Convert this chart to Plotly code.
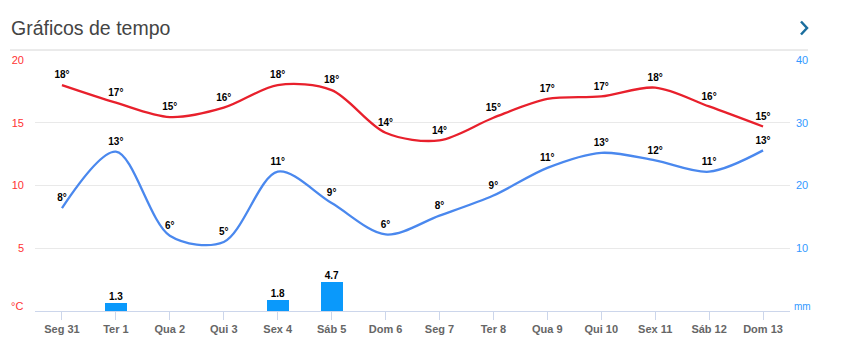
import plotly.graph_objects as go

days = ["Seg 31", "Ter 1", "Qua 2", "Qui 3", "Sex 4", "Sáb 5", "Dom 6",
        "Seg 7", "Ter 8", "Qua 9", "Qui 10", "Sex 11", "Sáb 12", "Dom 13"]
t_max = [18.0, 16.6, 15.45, 16.2, 18.0, 17.6, 14.2, 13.6, 15.4, 16.9, 17.1, 17.8, 16.3, 14.7]
t_min = [8.2, 12.7, 6.0, 5.5, 11.1, 8.6, 6.1, 7.6, 9.2, 11.4, 12.6, 12.0, 11.1, 12.8]
t_max_labels = ["18°", "17°", "15°", "16°", "18°", "18°", "14°",
                "14°", "15°", "17°", "17°", "18°", "16°", "15°"]
t_min_labels = ["8°", "13°", "6°", "5°", "11°", "9°", "6°",
                "8°", "9°", "11°", "13°", "12°", "11°", "13°"]
rain_days = ["Ter 1", "Sex 4", "Sáb 5"]
rain_mm = [1.3, 1.8, 4.7]
left_ticks = [5, 10, 15, 20]
right_ticks = [10, 20, 30, 40]

W, H = 845, 355
L, R, T, B = 35, 55, 60, 44
PW, PH = W - L - R, H - T - B

def px_x(px):
    return (px - L) / PW

def px_y(py):
    return (H - B - py) / PH

FONT = "Liberation Sans, Arial, sans-serif"
RED = "#e8202c"
BLUE = "#4a88ee"

fig = go.Figure()
fig.add_trace(go.Bar(
    x=rain_days, y=rain_mm, yaxis="y2", width=0.41,
    marker=dict(color="#0a99fb", line=dict(width=0)),
    hoverinfo="skip", showlegend=False,
))
fig.add_trace(go.Scatter(
    x=rain_days, y=rain_mm, yaxis="y2", mode="text",
    text=[f"<b>{v:.1f}</b>" for v in rain_mm], textposition="top center",
    textfont=dict(family=FONT, size=10, color="#000"),
    cliponaxis=False, hoverinfo="skip", showlegend=False,
))
for vals, labels, col in ((t_max, t_max_labels, RED), (t_min, t_min_labels, BLUE)):
    fig.add_trace(go.Scatter(
        x=days, y=vals, mode="lines+markers+text",
        line=dict(color=col, width=2.3, shape="spline", smoothing=0.9),
        marker=dict(size=5, color="rgba(0,0,0,0)"),
        text=[f"<b>{s}</b>" for s in labels], textposition="top center",
        textfont=dict(family=FONT, size=10, color="#000"),
        cliponaxis=False, showlegend=False,
    ))

fig.update_layout(
    width=W, height=H,
    margin=dict(l=L, r=R, t=T, b=B, pad=0),
    paper_bgcolor="white", plot_bgcolor="white",
    font=dict(family=FONT),
    bargap=0,
    xaxis=dict(
        type="category", categoryorder="array", categoryarray=days,
        range=[-0.5, len(days) - 0.5],
        showgrid=False, zeroline=False,
        showline=True, linecolor="#ccd6eb", linewidth=1,
        ticks="outside", ticklen=8, tickcolor="#ccd6eb", tickwidth=1,
        tickfont=dict(family=FONT, size=11, color="#666666", weight="bold"),
        fixedrange=True,
    ),
    yaxis=dict(
        range=[0, 20], tickvals=left_ticks,
        showgrid=True, gridcolor="#e9e9e9", gridwidth=1,
        zeroline=False, showline=False, ticks="",
        ticklabelstandoff=10,
        tickfont=dict(family=FONT, size=11, color="#ff3333"),
    ),
    yaxis2=dict(
        range=[0, 40], tickvals=right_ticks, overlaying="y", side="right",
        showgrid=False, zeroline=False, showline=False, ticks="",
        ticklabelstandoff=5,
        tickfont=dict(family=FONT, size=11, color="#3399ff"),
    ),
    annotations=[
        dict(text="Gráficos de tempo", xref="paper", yref="paper",
             x=px_x(9), y=px_y(28), xanchor="left", yanchor="middle",
             showarrow=False, font=dict(family=FONT, size=19.5, color="#444444")),
        dict(text="°C", xref="paper", yref="paper",
             x=px_x(25), y=px_y(306), xanchor="right", yanchor="middle",
             showarrow=False, font=dict(family=FONT, size=11, color="#ff3333")),
        dict(text="mm", xref="paper", yref="paper",
             x=px_x(792), y=px_y(306), xanchor="left", yanchor="middle",
             showarrow=False, font=dict(family=FONT, size=10, color="#3399ff")),
    ],
    shapes=[
        dict(type="line", xref="paper", yref="paper",
             x0=px_x(10), x1=px_x(808), y0=px_y(50), y1=px_y(50),
             line=dict(color="#d6d6d6", width=1)),
        dict(type="path", xref="paper", yref="paper",
             path=f"M {px_x(801)},{px_y(21.5)} L {px_x(807)},{px_y(28)} L {px_x(801)},{px_y(34.5)}",
             line=dict(color="#1a6e9e", width=2.5)),
    ],
)

fig.write_html("out.html", config={"displayModeBar": False},
               post_script="document.body.style.margin='0';")
